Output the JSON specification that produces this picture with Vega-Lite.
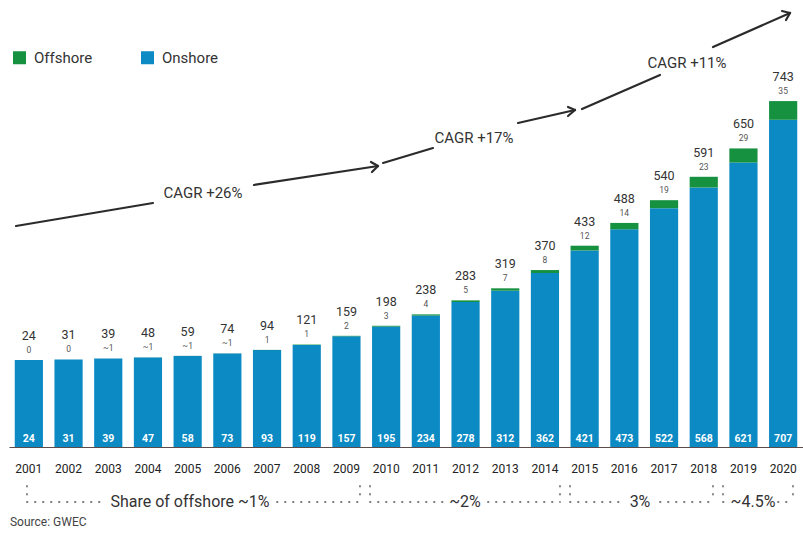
{
  "$schema": "https://vega.github.io/schema/vega-lite/v6.json",
  "width": 794,
  "height": 447,
  "autosize": {"type": "none"},
  "padding": {"left": 9, "top": 0, "right": 0, "bottom": 87},
  "background": "white",
  "config": {
    "font": "Roboto",
    "view": {"stroke": null}
  },
  "datasets": {
    "bars": [
      {"year": "2001", "Onshore": 24, "total": 24, "off": "0"},
      {"year": "2002", "Onshore": 31, "total": 31, "off": "0"},
      {"year": "2003", "Onshore": 39, "total": 39, "off": "~1"},
      {"year": "2004", "Onshore": 47, "total": 48, "off": "~1"},
      {"year": "2005", "Onshore": 58, "total": 59, "off": "~1"},
      {"year": "2006", "Onshore": 73, "total": 74, "off": "~1"},
      {"year": "2007", "Onshore": 93, "total": 94, "off": "1"},
      {"year": "2008", "Onshore": 119, "total": 121, "off": "1"},
      {"year": "2009", "Onshore": 157, "total": 159, "off": "2"},
      {"year": "2010", "Onshore": 195, "total": 198, "off": "3"},
      {"year": "2011", "Onshore": 234, "total": 238, "off": "4"},
      {"year": "2012", "Onshore": 278, "total": 283, "off": "5"},
      {"year": "2013", "Onshore": 312, "total": 319, "off": "7"},
      {"year": "2014", "Onshore": 362, "total": 370, "off": "8"},
      {"year": "2015", "Onshore": 421, "total": 433, "off": "12"},
      {"year": "2016", "Onshore": 473, "total": 488, "off": "14"},
      {"year": "2017", "Onshore": 522, "total": 540, "off": "19"},
      {"year": "2018", "Onshore": 568, "total": 591, "off": "23"},
      {"year": "2019", "Onshore": 621, "total": 650, "off": "29"},
      {"year": "2020", "Onshore": 707, "total": 743, "off": "35"}
    ],
    "arrows": [
      {"x": 2000.676, "y": 457.3, "x2": 2004.127, "y2": 504.9},
      {"x": 2006.671, "y": 542.2, "x2": 2009.795, "y2": 581.5},
      {"x": 2009.618, "y": 589.8, "x2": 2009.795, "y2": 581.5},
      {"x": 2009.643, "y": 569.1, "x2": 2009.795, "y2": 581.5},
      {"x": 2009.921, "y": 587.7, "x2": 2011.180, "y2": 618.7},
      {"x": 2013.321, "y": 670.5, "x2": 2014.757, "y2": 697.4},
      {"x": 2014.581, "y": 703.6, "x2": 2014.757, "y2": 697.4},
      {"x": 2014.581, "y": 685.0, "x2": 2014.757, "y2": 697.4},
      {"x": 2014.933, "y": 699.4, "x2": 2016.898, "y2": 769.8},
      {"x": 2018.233, "y": 827.7, "x2": 2020.173, "y2": 898.1},
      {"x": 2019.971, "y": 902.2, "x2": 2020.173, "y2": 898.1},
      {"x": 2020.072, "y": 883.6, "x2": 2020.173, "y2": 898.1}
    ],
    "cagr": [
      {"x": 2005.387, "y": 525.6, "label": "CAGR +26%"},
      {"x": 2012.213, "y": 639.4, "label": "CAGR +17%"},
      {"x": 2017.578, "y": 794.6, "label": "CAGR +11%"}
    ],
    "dots": [
      {"x": 2000.953, "x2": 2002.893, "y": -113.8, "y2": -113.8},
      {"x": 2007.251, "x2": 2009.341, "y": -113.8, "y2": -113.8},
      {"x": 2009.593, "x2": 2011.432, "y": -113.8, "y2": -113.8},
      {"x": 2012.565, "x2": 2014.379, "y": -113.8, "y2": -113.8},
      {"x": 2014.631, "x2": 2015.891, "y": -113.8, "y2": -113.8},
      {"x": 2016.898, "x2": 2018.233, "y": -113.8, "y2": -113.8},
      {"x": 2018.485, "x2": 2018.612, "y": -113.8, "y2": -113.8},
      {"x": 2019.870, "x2": 2020.248, "y": -113.8, "y2": -113.8},
      {"x": 2000.953, "x2": 2000.953, "y": -80.7, "y2": -113.8},
      {"x": 2009.341, "x2": 2009.341, "y": -80.7, "y2": -113.8},
      {"x": 2009.593, "x2": 2009.593, "y": -80.7, "y2": -113.8},
      {"x": 2014.379, "x2": 2014.379, "y": -80.7, "y2": -113.8},
      {"x": 2014.631, "x2": 2014.631, "y": -80.7, "y2": -113.8},
      {"x": 2018.233, "x2": 2018.233, "y": -80.7, "y2": -113.8},
      {"x": 2018.485, "x2": 2018.485, "y": -80.7, "y2": -113.8},
      {"x": 2020.248, "x2": 2020.248, "y": -80.7, "y2": -113.8}
    ],
    "share": [
      {"x": 2005.059, "y": -113.8, "label": "Share of offshore ~1%"},
      {"x": 2011.986, "y": -113.8, "label": "~2%"},
      {"x": 2016.394, "y": -113.8, "label": "3%"},
      {"x": 2019.241, "y": -113.8, "label": "~4.5%"}
    ],
    "source": [
      {"x": 2000.525, "y": -155.2, "label": "Source: GWEC"}
    ]
  },
  "layer": [
    {
      "layer": [
        {
          "data": {"name": "bars"},
          "mark": {"type": "bar"},
          "encoding": {
            "x": {
              "field": "year",
              "type": "ordinal",
              "scale": {"paddingInner": 0.29, "paddingOuter": 0.145},
              "axis": {
                "title": null,
                "labelAngle": 0,
                "ticks": false,
                "tickSize": 0,
                "labelPadding": 16,
                "labelFontSize": 12,
                "labelColor": "#222222",
                "domainColor": "#5b4b4b",
                "domainWidth": 1.2,
                "grid": false
              }
            },
            "y": {
              "field": "Onshore",
              "type": "quantitative",
              "scale": {"type": "pow", "exponent": 1.5, "domain": [-353.2, 924.5], "nice": false, "zero": false},
              "axis": null
            },
            "y2": {"datum": -353.2},
            "color": {
              "datum": "Onshore",
              "type": "nominal",
              "scale": {"domain": ["Offshore", "Onshore"], "range": ["#16913f", "#0b8ac4"]},
              "legend": {
                "title": null,
                "orient": "none",
                "legendX": 3,
                "legendY": 50,
                "direction": "horizontal",
                "symbolType": "square",
                "symbolSize": 169,
                "symbolStrokeWidth": 0,
                "labelFontSize": 15,
                "labelColor": "#333333",
                "labelOffset": 7,
                "columnPadding": 47,
                "padding": 0
              }
            }
          }
        },
        {
          "data": {"name": "bars"},
          "mark": {"type": "bar"},
          "encoding": {
            "x": {"field": "year", "type": "ordinal"},
            "y": {"field": "total", "type": "quantitative"},
            "y2": {"field": "Onshore"},
            "color": {"datum": "Offshore", "type": "nominal"}
          }
        },
        {
          "data": {"name": "bars"},
          "mark": {"type": "text", "baseline": "middle", "align": "center", "dy": -24, "fontSize": 12.5, "color": "#333333"},
          "encoding": {
            "x": {"field": "year", "type": "ordinal"},
            "y": {"field": "total", "type": "quantitative"},
            "text": {"field": "total", "type": "quantitative"}
          }
        },
        {
          "data": {"name": "bars"},
          "mark": {"type": "text", "baseline": "middle", "align": "center", "dy": -10, "fontSize": 8.5, "color": "#555555"},
          "encoding": {
            "x": {"field": "year", "type": "ordinal"},
            "y": {"field": "total", "type": "quantitative"},
            "text": {"field": "off", "type": "nominal"}
          }
        },
        {
          "data": {"name": "bars"},
          "mark": {"type": "text", "baseline": "middle", "align": "center", "dy": -8, "fontSize": 10.5, "fontWeight": "bold", "color": "white"},
          "encoding": {
            "x": {"field": "year", "type": "ordinal"},
            "y": {"datum": -353.2, "type": "quantitative"},
            "text": {"field": "Onshore", "type": "quantitative"}
          }
        }
      ]
    },
    {
      "layer": [
        {
          "data": {"name": "arrows"},
          "mark": {"type": "rule", "strokeWidth": 2.2, "color": "#2b2b2b", "strokeCap": "round"},
          "encoding": {
            "x": {"field": "x", "type": "quantitative", "scale": {"domain": [2000.5, 2020.5], "nice": false, "zero": false}, "axis": null},
            "x2": {"field": "x2"},
            "y": {"field": "y", "type": "quantitative", "scale": {"domain": [0, 925], "nice": false, "zero": false}, "axis": null},
            "y2": {"field": "y2"}
          }
        },
        {
          "data": {"name": "dots"},
          "mark": {"type": "rule", "strokeWidth": 1.8, "color": "#777777", "strokeCap": "round", "strokeDash": [0.5, 7.5]},
          "encoding": {
            "x": {"field": "x", "type": "quantitative"},
            "x2": {"field": "x2"},
            "y": {"field": "y", "type": "quantitative"},
            "y2": {"field": "y2"}
          }
        },
        {
          "data": {"name": "cagr"},
          "mark": {"type": "text", "baseline": "middle", "align": "center", "fontSize": 15, "color": "#333333"},
          "encoding": {
            "x": {"field": "x", "type": "quantitative"},
            "y": {"field": "y", "type": "quantitative"},
            "text": {"field": "label", "type": "nominal"}
          }
        },
        {
          "data": {"name": "share"},
          "mark": {"type": "text", "baseline": "middle", "align": "center", "fontSize": 16, "color": "#333333"},
          "encoding": {
            "x": {"field": "x", "type": "quantitative"},
            "y": {"field": "y", "type": "quantitative"},
            "text": {"field": "label", "type": "nominal"}
          }
        },
        {
          "data": {"name": "source"},
          "mark": {"type": "text", "baseline": "middle", "align": "left", "fontSize": 12, "color": "#444444"},
          "encoding": {
            "x": {"field": "x", "type": "quantitative"},
            "y": {"field": "y", "type": "quantitative"},
            "text": {"field": "label", "type": "nominal"}
          }
        }
      ]
    }
  ],
  "resolve": {"scale": {"x": "independent", "y": "independent"}}
}
